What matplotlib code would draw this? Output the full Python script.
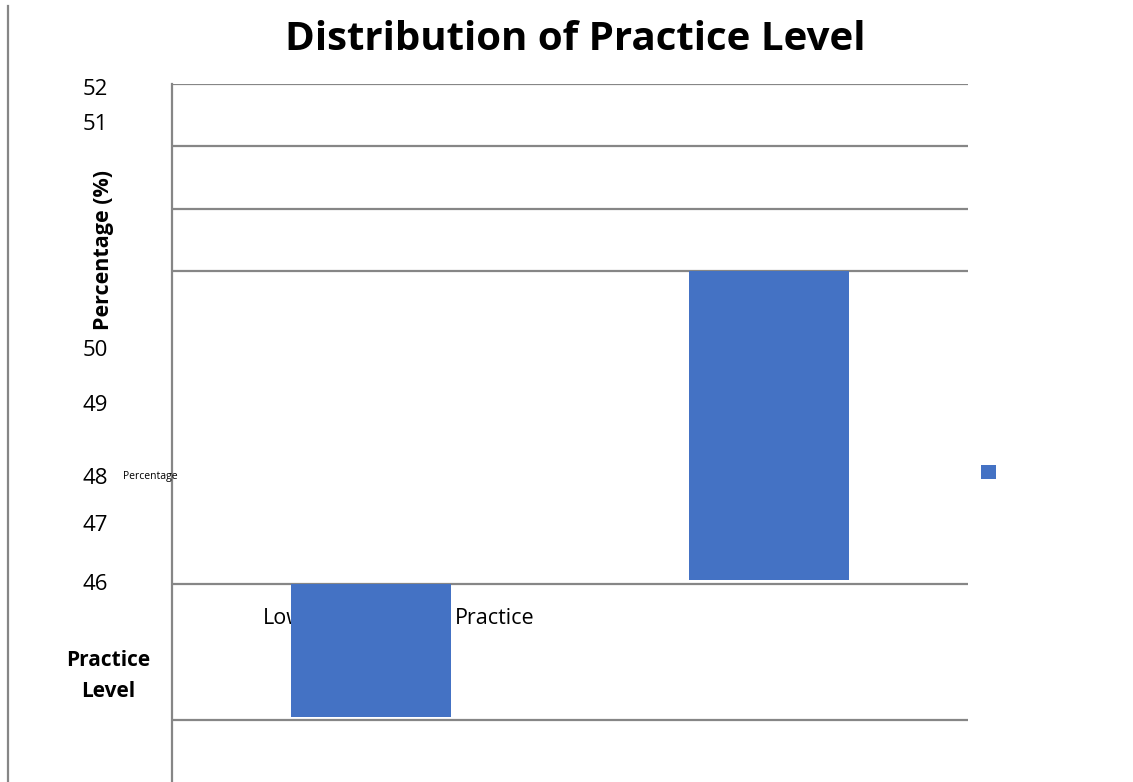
import matplotlib
matplotlib.use("Agg")
import matplotlib.pyplot as plt
from matplotlib.lines import Line2D

plt.rcParams['font.family'] = ['Open Sans', 'DejaVu Sans']

# values (percent)
levels = ["Low Practice", "High Practice"]
bar_low = [44.4, 46.04]
bar_high = [46.0, 49.76]
tick_values = ["52", "51", "50", "49", "48", "47", "46"]
tick_rows = [0.887, 0.843, 0.554, 0.483, 0.390, 0.330, 0.254]
grid_values = [44.37, 46.0, 49.75, 50.5, 51.25, 52.0]

blue = "#4472C4"
gray = "#868686"

fig = plt.figure(figsize=(11.33, 7.82), dpi=100)
ax = fig.add_axes([172 / 1133, 0.0, (968 - 172) / 1133, 1 - 84 / 782])

heights = [h - l for l, h in zip(bar_low, bar_high)]
ax.bar([0, 1], heights, bottom=bar_low, width=0.4, color=blue, zorder=3, label=" ")
ax.set_xlim(-0.5, 1.5)
ax.set_ylim(43.62, 52.0)

ax.set_yticks(grid_values)
ax.set_xticks([])
ax.tick_params(axis="y", length=0, labelleft=False)
ax.grid(axis="y", color=gray, lw=1.6, zorder=0)
for s in ["top", "right", "bottom"]:
    ax.spines[s].set_visible(False)
ax.spines["left"].set_color(gray)
ax.spines["left"].set_linewidth(1.6)

# category label, broken apart around the first bar
first_word, second_word = levels[0].split()
fig.text(263 / 1133, 1 - 618 / 782, first_word, fontsize=15.5, ha="left", va="center", zorder=1)
fig.text(455 / 1133, 1 - 618 / 782, second_word, fontsize=15.5, ha="left", va="center", zorder=1)
ax.set_zorder(2)
ax.patch.set_alpha(0)

fig.text(575 / 1133, 1 - 40 / 782, "Distribution of Practice Level",
         fontsize=29, fontweight="bold", ha="center", va="center")
fig.text(103 / 1133, 1 - 250 / 782, "Percentage (%)", rotation=90,
         fontsize=15.5, fontweight="bold", ha="center", va="center")
fig.text(108 / 1133, 1 - 676 / 782, "Practice\nLevel", fontsize=15,
         fontweight="bold", ha="center", va="center", linespacing=1.6)
fig.text(150 / 1133, 1 - 476 / 782, "Percentage", fontsize=7.5, ha="center", va="center")

for lab, row in zip(tick_values, tick_rows):
    fig.text(95 / 1133, row - 0.002, lab, fontsize=16, ha="center", va="center")

fig.legend(loc="center", bbox_to_anchor=(991 / 1133, 1 - 473 / 782), frameon=False,
           handlelength=0.9, handleheight=0.9, handletextpad=0, fontsize=12)

fig.add_artist(Line2D([8 / 1133, 8 / 1133], [0, 1 - 6 / 782], color=gray, lw=1.6))

fig.savefig("out.png", dpi=100)
